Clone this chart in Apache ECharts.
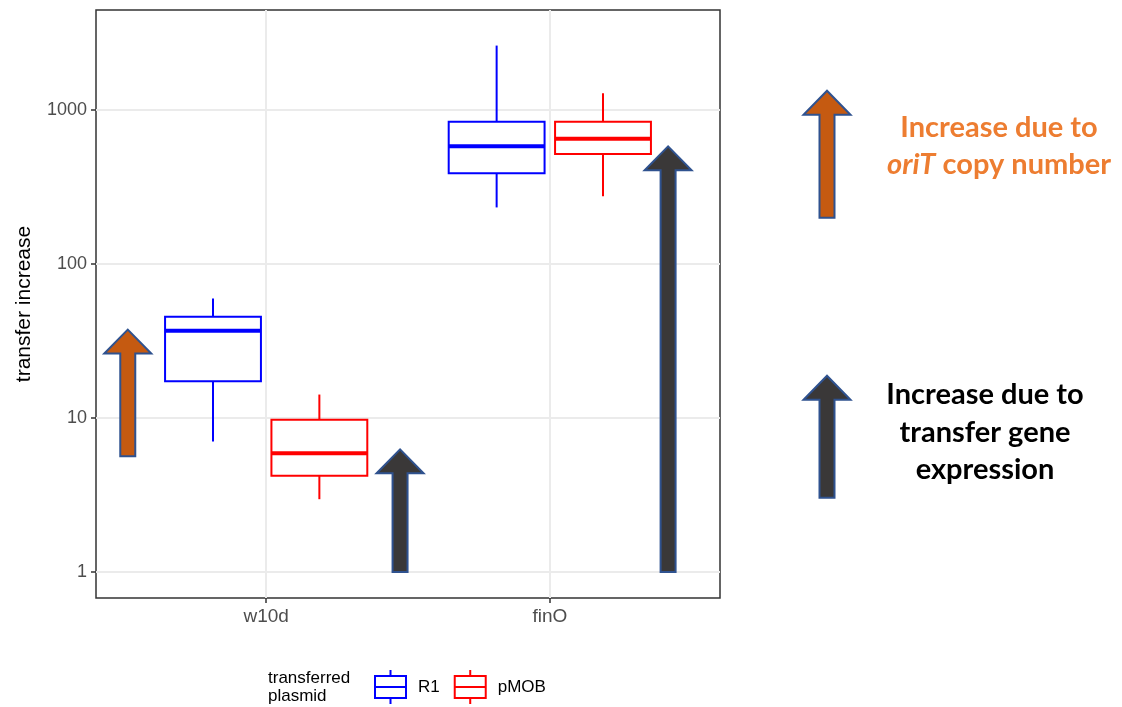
<!DOCTYPE html>
<html>
<head>
<meta charset="utf-8">
<script src="https://cdn.jsdelivr.net/npm/echarts@6/dist/echarts.min.js"></script>
<style>
  html, body { margin: 0; padding: 0; background: #fff; }
  #chart { width: 1122px; height: 707px; }
</style>
</head>
<body>
<div id="chart"></div>
<script>
// ---- data ----
const categories = ['w10d', 'finO'];
const groups = ['R1', 'pMOB'];
// five-number summaries per category: [lower whisker, Q1, median, Q3, upper whisker]
const r1Stats = [
  [7.04, 17.3, 36.9, 45.5, 59.8],
  [233, 389, 581, 839, 2620]
];
const pmobStats = [
  [2.97, 4.21, 5.91, 9.75, 14.2],
  [275, 517, 650, 839, 1285]
];
const yTicks = [1, 10, 100, 1000];
// annotation arrows: category, start value, end value
const copyArrows = [['w10d', 5.64, 37.5]];
const exprArrows = [['w10d', 1, 6.26], ['finO', 1, 581]];

// ---- layout ----
const DODGE = 0.1875;
const BOX_W = 0.338;
const ARROW_OFFSET = { copy: [-0.488], expr: [0.472, 0.417] };
const colors = { R1: '#0000FF', pMOB: '#FF0000' };
const arrowFill = { copy: '#C55A11', expr: '#3A3838' };
const arrowEdge = '#2F528F';
const FONT = 'Liberation Sans, Arial, sans-serif';

function boxData(stats, dir) {
  return stats.map((s, i) => [i + 1 + dir * DODGE].concat(s));
}
function arrowData(list, offs) {
  return list.map((a, i) => [categories.indexOf(a[0]) + 1 + offs[i], a[1], a[2]]);
}

function renderBox(color) {
  return function (params, api) {
    const x = api.value(0);
    const p = [1, 2, 3, 4, 5].map(d => api.coord([x, api.value(d)]));
    const cx = p[0][0];
    const half = api.coord([x + BOX_W / 2, api.value(3)])[0] - cx;
    const l = cx - half, r = cx + half;
    const thin = { stroke: color, lineWidth: 2, fill: null };
    return {
      type: 'group',
      children: [
        { type: 'line', shape: { x1: cx, y1: p[4][1], x2: cx, y2: p[3][1] }, style: thin },
        { type: 'line', shape: { x1: cx, y1: p[1][1], x2: cx, y2: p[0][1] }, style: thin },
        { type: 'rect', shape: { x: l, y: p[3][1], width: r - l, height: p[1][1] - p[3][1] },
          style: { stroke: color, lineWidth: 2, fill: '#fff' } },
        { type: 'line', shape: { x1: l, y1: p[2][1], x2: r, y2: p[2][1] },
          style: { stroke: color, lineWidth: 4 } }
      ]
    };
  };
}

function arrowPoints(cx, yBase, yTip) {
  const sw = 7.5, hw = 23.5, hh = 24;
  return [
    [cx - sw, yBase], [cx - sw, yTip + hh], [cx - hw, yTip + hh], [cx, yTip],
    [cx + hw, yTip + hh], [cx + sw, yTip + hh], [cx + sw, yBase]
  ];
}

function renderArrow(fill) {
  return function (params, api) {
    const x = api.value(0);
    const a = api.coord([x, api.value(1)]);
    const b = api.coord([x, api.value(2)]);
    return {
      type: 'polygon',
      shape: { points: arrowPoints(a[0], a[1], b[1]) },
      style: { fill: fill, stroke: arrowEdge, lineWidth: 2 }
    };
  };
}

const boxIcon = 'path://M15.5,0 V6 M0,6 H31 V28 H0 Z M0,17 H31 M15.5,28 V34';

const chart = echarts.init(document.getElementById('chart'), null, { renderer: 'canvas' });

const option = {
  backgroundColor: '#ffffff',
  animation: false,
  grid: {
    left: 96, right: 402, top: 10, bottom: 109,
    outerBoundsMode: 'none', containLabel: false,
    show: true, borderColor: '#333333', borderWidth: 1.5, backgroundColor: 'transparent'
  },
  xAxis: {
    type: 'value', min: 0.4, max: 2.6,
    axisLine: { show: false },
    axisTick: { show: true, customValues: [1, 2], length: 5, lineStyle: { color: '#333333', width: 1.5 } },
    axisLabel: {
      customValues: [1, 2], margin: 9,
      formatter: v => categories[Math.round(v) - 1] || '',
      color: '#4D4D4D', fontSize: 19, fontFamily: FONT
    },
    splitLine: { show: true, lineStyle: { color: '#EBEBEB', width: 2 } }
  },
  yAxis: {
    type: 'log', logBase: 10, min: 0.678, max: 4460,
    name: 'transfer increase', nameLocation: 'middle', nameGap: 61,
    nameTextStyle: { color: '#000000', fontSize: 21, fontFamily: FONT },
    axisLine: { show: false },
    axisTick: { show: true, customValues: yTicks, length: 5, lineStyle: { color: '#333333', width: 1.5 } },
    axisLabel: {
      customValues: yTicks, margin: 9,
      formatter: v => String(Math.round(v)),
      color: '#4D4D4D', fontSize: 18, fontFamily: FONT
    },
    splitLine: { show: true, lineStyle: { color: '#EBEBEB', width: 2 } },
    minorSplitLine: { show: false }
  },
  legend: {
    left: 369, top: 664, orient: 'horizontal',
    itemWidth: 31, itemHeight: 34, itemGap: 14,
    selectedMode: false,
    textStyle: { fontSize: 17, color: '#000', fontFamily: FONT, padding: [0, 0, 0, 7] },
    data: groups.map(g => ({
      name: g, icon: boxIcon,
      itemStyle: { color: 'rgba(0,0,0,0)', borderColor: colors[g], borderWidth: 2 }
    }))
  },
  series: [
    {
      name: 'R1', type: 'custom', renderItem: renderBox(colors.R1),
      data: boxData(r1Stats, -1), encode: { x: 0, y: [1, 2, 3, 4, 5] },
      itemStyle: { color: colors.R1 }, z: 3
    },
    {
      name: 'pMOB', type: 'custom', renderItem: renderBox(colors.pMOB),
      data: boxData(pmobStats, 1), encode: { x: 0, y: [1, 2, 3, 4, 5] },
      itemStyle: { color: colors.pMOB }, z: 3
    },
    {
      name: 'copy', type: 'custom', renderItem: renderArrow(arrowFill.copy),
      data: arrowData(copyArrows, ARROW_OFFSET.copy), encode: { x: 0, y: [1, 2] }, z: 4
    },
    {
      name: 'expr', type: 'custom', renderItem: renderArrow(arrowFill.expr),
      data: arrowData(exprArrows, ARROW_OFFSET.expr), encode: { x: 0, y: [1, 2] }, z: 4
    }
  ],
  graphic: [
    {
      type: 'text', left: 268, top: 669,
      style: {
        text: 'transferred\nplasmid', fill: '#000', fontSize: 17, lineHeight: 18,
        fontFamily: FONT, align: 'left'
      }
    },
    // key arrows on the right
    {
      type: 'polygon', shape: { points: arrowPoints(827, 217.7, 90.7) },
      style: { fill: arrowFill.copy, stroke: arrowEdge, lineWidth: 2 }
    },
    {
      type: 'polygon', shape: { points: arrowPoints(827, 497.7, 375.7) },
      style: { fill: arrowFill.expr, stroke: arrowEdge, lineWidth: 2 }
    },
    {
      type: 'text', x: 999, y: 128,
      style: { text: 'Increase due to', fill: '#ED7D31', font: 'bold 29px Lato, sans-serif',
        align: 'center', verticalAlign: 'middle' }
    },
    {
      type: 'text', x: 999, y: 165,
      style: {
        text: '{i|oriT} copy number', fill: '#ED7D31', font: 'bold 29px Lato, sans-serif',
        align: 'center', verticalAlign: 'middle',
        rich: { i: { fontStyle: 'italic', fontWeight: 'bold', fontSize: 29, fontFamily: 'Lato, sans-serif', fill: '#ED7D31' } }
      }
    },
    {
      type: 'text', x: 985, y: 395,
      style: { text: 'Increase due to', fill: '#000000', font: 'bold 29px Lato, sans-serif',
        align: 'center', verticalAlign: 'middle' }
    },
    {
      type: 'text', x: 985, y: 433,
      style: { text: 'transfer gene', fill: '#000000', font: 'bold 29px Lato, sans-serif',
        align: 'center', verticalAlign: 'middle' }
    },
    {
      type: 'text', x: 985, y: 470,
      style: { text: 'expression', fill: '#000000', font: 'bold 29px Lato, sans-serif',
        align: 'center', verticalAlign: 'middle' }
    }
  ]
};

chart.setOption(option);
</script>
</body>
</html>
